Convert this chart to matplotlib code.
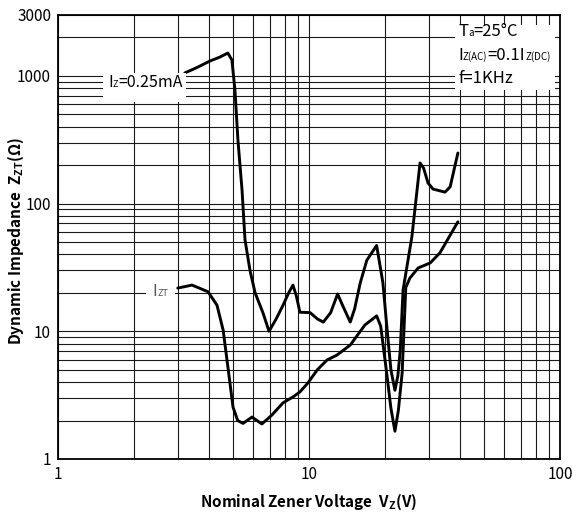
import matplotlib
matplotlib.use("Agg")
import matplotlib.pyplot as plt
from matplotlib.offsetbox import AnnotationBbox, HPacker, TextArea
from matplotlib.patches import Rectangle

plt.rcParams["font.family"] = ["Noto Sans CJK SC", "DejaVu Sans"]
plt.rcParams["mathtext.fontset"] = "custom"
plt.rcParams["mathtext.rm"] = "Noto Sans CJK SC"
plt.rcParams["mathtext.bf"] = "Noto Sans CJK SC:bold"

# Iz = 0.25 mA curve
vz_low_current = [3.2, 3.6, 4.03, 4.4, 4.75, 4.93, 5.07, 5.21, 5.41, 5.56,
                  5.82, 6.1, 6.56, 6.93, 7.4, 7.88, 8.3, 8.63, 8.9, 9.2, 10.1,
                  10.8, 11.4, 12.2, 13.0, 13.6, 14.6, 15.2, 16.0, 17.0, 18.6,
                  19.7, 20.5, 21.2, 22.0, 22.6, 23.1, 23.7, 25.7, 27.7, 28.6,
                  29.8, 31.2, 34.8, 36.5, 39.2]
zz_low_current = [1054, 1170, 1308, 1400, 1510, 1333, 776, 315, 128, 52,
                  30, 20, 13.9, 10, 12.5, 16, 20, 23, 19, 14.1, 14,
                  12.5, 11.8, 14, 19.6, 16, 11.8, 15, 23.9, 36, 47,
                  24, 10, 5, 3.45, 4.5, 7.1, 21, 55, 208, 190,
                  145, 130, 123, 135, 249]

# Izt curve
vz_test_current = [3.0, 3.42, 3.96, 4.3, 4.55, 4.8, 4.98, 5.2, 5.46, 5.93, 6.49,
                   7.1, 7.88, 8.63, 9.2, 9.9, 10.8, 11.8, 12.9, 14.6, 16.7,
                   18.6, 19.3, 20.4, 21.2, 22.0, 22.7, 23.5, 24.3, 25.2, 27.2,
                   30.4, 33.2, 39.2]
zz_test_current = [21.8, 23, 20.4, 16, 10.2, 4.5, 2.55, 2.0, 1.9, 2.13, 1.88,
                   2.2, 2.75, 3.06, 3.35, 3.94, 5.0, 5.96, 6.5, 7.8, 11.2,
                   13.2, 11, 4.7, 2.5, 1.65, 2.4, 4.7, 22, 26, 31.3,
                   34.3, 41, 72]

x_ticks = [1, 10, 100]
y_ticks = [1, 10, 100, 1000, 3000]

# text pieces: (string, is_subscript)
label_low_current = [("I", False), ("Z", True), ("=0.25mA", False)]
label_test_current = [("I", False), ("ZT", True)]
conditions = [
    [("T", False), ("a", True), ("=25°C", False)],
    [("I", False), ("Z(AC)", True), ("=0.1I", False), ("Z(DC)", True)],
    [("f=1KHz", False)],
]


def rich_text(ax, parts, xy, size, sub_size, color="black"):
    """Place a line of text with small baseline subscripts (axes fraction)."""
    areas = [
        TextArea(s, textprops=dict(fontsize=sub_size if sub else size, color=color))
        for s, sub in parts
    ]
    pack = HPacker(children=areas, align="baseline", pad=0, sep=0)
    ab = AnnotationBbox(pack, xy, xycoords="axes fraction", box_alignment=(0, 0.5),
                        frameon=False, pad=0, zorder=6)
    ax.add_artist(ab)


def white_box(ax, x0, y0, w, h):
    ax.add_patch(Rectangle((x0, y0), w, h, transform=ax.transAxes,
                           facecolor="white", edgecolor="none", zorder=4))


fig = plt.figure(figsize=(5.72, 5.13), dpi=100)
ax = fig.add_axes([0.1014, 0.1053, 0.8776, 0.8655])
ax.set_xscale("log")
ax.set_yscale("log")
ax.set_xlim(1, 100)
ax.set_ylim(1, 3000)

ax.grid(True, which="both", color="#1a1a1a", linewidth=0.8)
ax.set_axisbelow(True)

curve_style = dict(color="black", linewidth=2.1, zorder=3,
                   solid_joinstyle="round", solid_capstyle="round")
ax.plot(vz_low_current, zz_low_current, **curve_style)
ax.plot(vz_test_current, zz_test_current, **curve_style)

ax.set_xticks(x_ticks)
ax.set_xticklabels([str(v) for v in x_ticks])
ax.set_yticks(y_ticks)
ax.set_yticklabels([str(v) for v in y_ticks])
ax.minorticks_on()
ax.tick_params(which="both", length=0, labelsize=11)
ax.tick_params(axis="x", pad=5)
ax.tick_params(axis="y", pad=5)
ax.xaxis.set_minor_formatter(plt.NullFormatter())
ax.yaxis.set_minor_formatter(plt.NullFormatter())

for side in ax.spines.values():
    side.set_linewidth(1.3)
    side.set_zorder(5)

ax.set_xlabel(r"Nominal Zener Voltage  V$_\mathbf{Z}$(V)", fontsize=11,
              fontweight="bold", labelpad=6)
ax.set_ylabel(r"Dynamic Impedance  Z$_\mathbf{ZT}$(Ω)",
              fontsize=11, fontweight="bold", va="center")
ax.yaxis.set_label_coords(-0.084, 0.49)

# curve labels
white_box(ax, 0.0896, 0.804, 0.165, 0.065)
rich_text(ax, label_low_current, (0.0996, 0.847), 11.5, 6.5)
white_box(ax, 0.175, 0.358, 0.058, 0.036)
rich_text(ax, label_test_current, (0.188, 0.378), 11.5, 6.5, color="#555555")

# conditions box, top right
white_box(ax, 0.791, 0.831, 0.199, 0.146)
for i, line in enumerate(conditions):
    rich_text(ax, line, (0.797, 0.962 - i * 0.053), 12, 7)

fig.savefig("out.png", dpi=100)
